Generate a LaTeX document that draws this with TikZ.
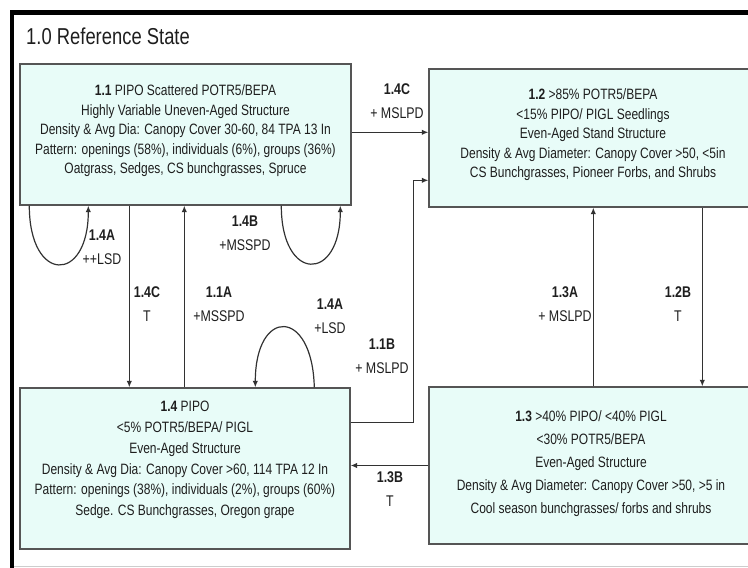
\documentclass[tikz,border=0pt]{standalone}
\usepackage{fontspec}
\setmainfont{Liberation Sans}[FakeStretch=0.8]
\usetikzlibrary{arrows.meta,calc}
\definecolor{boxfill}{RGB}{232,252,248}
\definecolor{boxline}{RGB}{85,85,85}
\definecolor{ink}{RGB}{30,30,30}
\definecolor{conn}{RGB}{50,50,50}
\definecolor{faint}{RGB}{205,205,205}
\begin{document}
\begin{tikzpicture}[x=1pt,y=-1pt,
  statebox/.style={draw=boxline, fill=boxfill, line width=1.4pt, rectangle, inner sep=0pt},
  boxtext/.style={align=center, text=ink, inner sep=0pt},
  lbl/.style={align=center, text=ink, font=\fontsize{15.5}{24}\selectfont, inner sep=0pt},
  arr/.style={draw=conn, line width=1.2pt, -{Latex[length=6.5pt,width=5.5pt]}},
]
\useasboundingbox (0,0) rectangle (748,568);
\clip (0,0) rectangle (748,568);
% frame
\draw[faint, line width=1pt] (12,566) -- (748,566);
\draw[black, line width=4.5pt] (10,12.5) -- (748,12.5);
\draw[black, line width=3.5pt] (12,10) -- (12,568);
\node[anchor=west, text=ink, inner sep=0pt, font=\fontsize{23}{27}\selectfont] (title) at (26,36) {1.0 Reference State};

% state boxes
\node[statebox, minimum width=331pt, minimum height=141pt] (b11) at (185.5,134.5) {};
\node[statebox, minimum width=328pt, minimum height=138pt] (b12) at (593,138) {};
\node[statebox, minimum width=330pt, minimum height=161pt] (b14) at (185,468.5) {};
\node[statebox, minimum width=326pt, minimum height=157pt] (b13) at (592,465.5) {};

\node[boxtext, font=\fontsize{15}{19.5}\selectfont] (t11) at (185.5,131) {\textbf{1.1} PIPO Scattered POTR5/BEPA\\Highly Variable Uneven-Aged Structure\\Density \& Avg Dia: Canopy Cover 30-60, 84 TPA 13 In\\Pattern: openings (58\%), individuals (6\%), groups (36\%)\\Oatgrass, Sedges, CS bunchgrasses, Spruce};
\node[boxtext, font=\fontsize{15}{19.5}\selectfont] (t12) at (593,135) {\textbf{1.2} >85\% POTR5/BEPA\\<15\% PIPO/ PIGL Seedlings\\Even-Aged Stand Structure\\Density \& Avg Diameter: Canopy Cover >50, <5in\\CS Bunchgrasses, Pioneer Forbs, and Shrubs};
\node[boxtext, font=\fontsize{15}{20.8}\selectfont] (t14) at (185,460) {\textbf{1.4} PIPO\\<5\% POTR5/BEPA/ PIGL\\Even-Aged Structure\\Density \& Avg Dia: Canopy Cover >60, 114 TPA 12 In\\Pattern: openings (38\%), individuals (2\%), groups (60\%)\\Sedge. CS Bunchgrasses, Oregon grape};
\node[boxtext, font=\fontsize{15}{23}\selectfont] (t13) at (591,464) {\textbf{1.3} >40\% PIPO/ <40\% PIGL\\<30\% POTR5/BEPA\\Even-Aged Structure\\Density \& Avg Diameter: Canopy Cover >50, >5 in\\Cool season bunchgrasses/ forbs and shrubs};

% anchor points
\coordinate (p14c) at ([xshift=110pt]b11.south west);
\coordinate (p11a) at ([xshift=165pt]b14.north west);
\coordinate (p13a) at ([xshift=165pt]b13.north west);
\coordinate (p12b) at ([xshift=274pt]b12.south west);
\coordinate (p14ctop) at ([yshift=-69pt]b11.north east);
\coordinate (q1) at ([yshift=-35pt]b14.north east);
\coordinate (q2) at ([yshift=-112pt]b12.north west);

% straight connectors
\draw[arr] (p14c) -- (p14c |- b14.north);
\draw[arr] (p11a) -- (p11a |- b11.south);
\draw[arr] (p13a) -- (p13a |- b12.south);
\draw[arr] (p12b) -- (p12b |- b13.north);
\draw[arr] (b13.west) -- (b13.west -| b14.east);
\draw[arr] (p14ctop) -- (p14ctop -| b12.west);
\draw[arr] (q1) -- ++(63,0) |- (q2);

% loops
\draw[arr] ([xshift=10pt]b11.south west) .. controls +(0,78) and +(0,78) .. ([xshift=69pt]b11.south west);
\draw[arr] ([xshift=262pt]b11.south west) .. controls +(0,77) and +(0,77) .. ([xshift=321pt]b11.south west);
\draw[arr] ([xshift=295pt]b14.north west) .. controls +(-2,-80) and +(0,-80) .. ([xshift=236pt]b14.north west);

% labels
\node[lbl] (l14ctop) at (397,101.5) {\textbf{1.4C}\\+ MSLPD};
\node[lbl] (l14a1) at (102,247.5) {\textbf{1.4A}\\++LSD};
\node[lbl] (l14b) at (245,233.5) {\textbf{1.4B}\\+MSSPD};
\node[lbl] (l14c) at (147,304.5) {\textbf{1.4C}\\T};
\node[lbl] (l11a) at (219,304.5) {\textbf{1.1A}\\+MSSPD};
\node[lbl] (l14a2) at (330,316.5) {\textbf{1.4A}\\+LSD};
\node[lbl] (l11b) at (382,356) {\textbf{1.1B}\\+ MSLPD};
\node[lbl] (l13a) at (565,304.5) {\textbf{1.3A}\\+ MSLPD};
\node[lbl] (l12b) at (678,304.5) {\textbf{1.2B}\\T};
\node[lbl] (l13b) at (390,489.5) {\textbf{1.3B}\\T};
\end{tikzpicture}
\end{document}
